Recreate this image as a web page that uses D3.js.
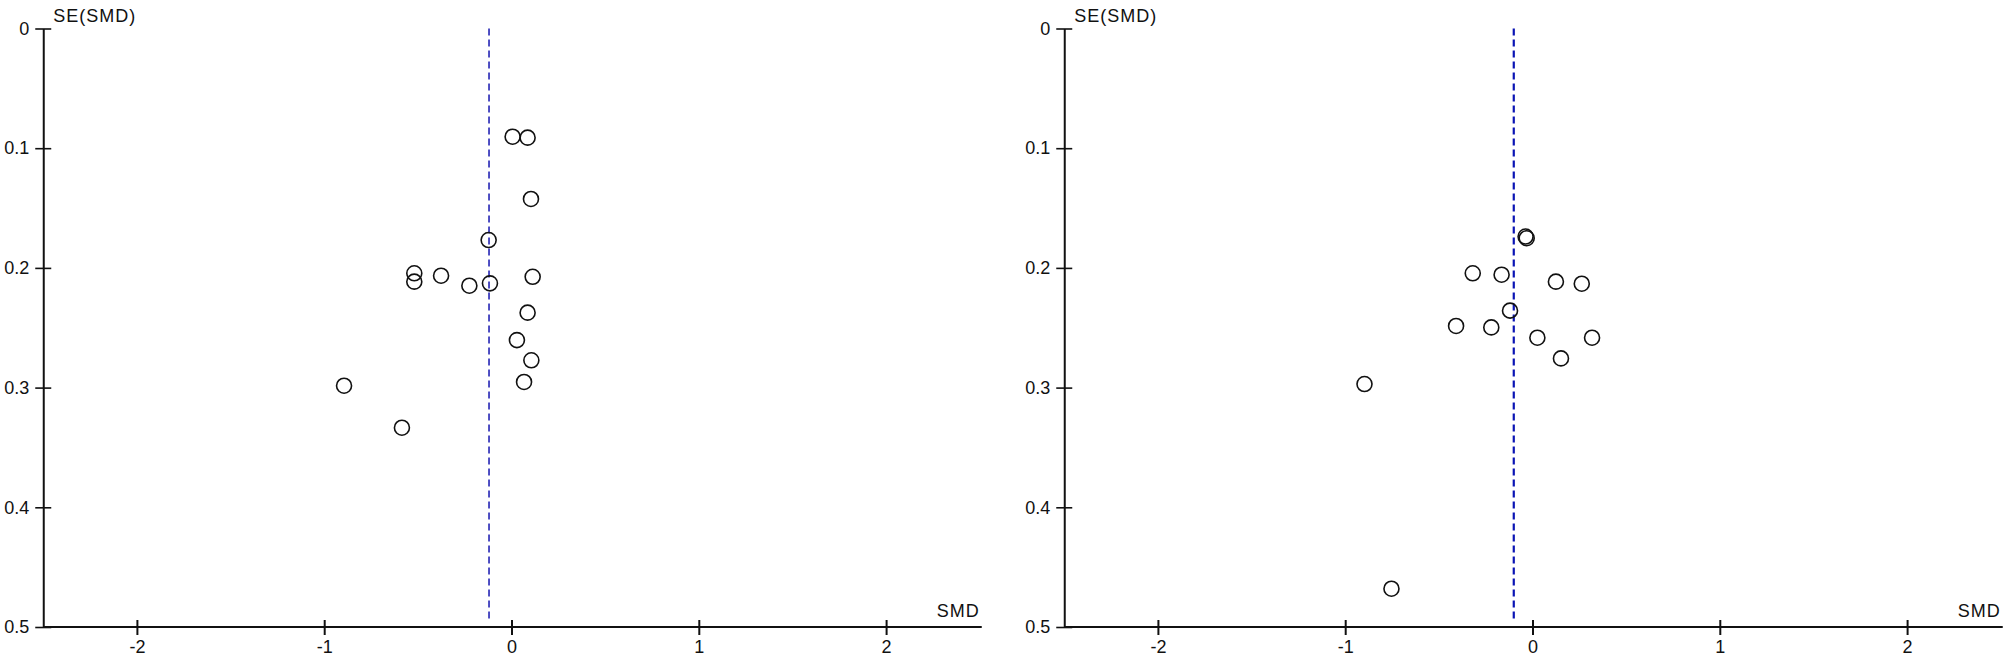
<!DOCTYPE html>
<html>
<head>
<meta charset="utf-8">
<script src="https://cdn.jsdelivr.net/npm/d3@7"></script>
<style>
  html, body { margin: 0; padding: 0; background: #fff; }
  svg { display: block; }
  text { font-family: "Liberation Sans", Arial, sans-serif; fill: #111; }
</style>
</head>
<body>
<div id="chart"></div>
<script>
// Two funnel plots (SMD vs SE(SMD)).

const x_ticks = [-2, -1, 0, 1, 2];
const y_ticks = [0, 0.1, 0.2, 0.3, 0.4, 0.5];

const left_smd = [0.006, 0.086, 0.104, -0.122, -0.519, -0.519, -0.376, -0.225,
  -0.115, 0.113, 0.086, 0.029, 0.106, 0.067, -0.894, -0.585];
const left_se = [0.0904, 0.0912, 0.1424, 0.1767, 0.2045, 0.2115, 0.2065, 0.2149,
  0.2129, 0.2074, 0.2374, 0.2603, 0.2772, 0.2953, 0.2984, 0.3335];
const left_pooled = -0.12;

const right_smd = [-0.037, -0.031, -0.319, -0.165, 0.125, 0.263, -0.120, -0.408,
  -0.220, 0.026, 0.318, 0.152, -0.897, -0.753];
const right_se = [0.1738, 0.1752, 0.2045, 0.2057, 0.2115, 0.2132, 0.2357, 0.2485,
  0.2497, 0.2583, 0.2583, 0.2756, 0.2970, 0.4680];
const right_pooled = -0.10;

const width = 2010;
const height = 659;

const svg = d3.select("#chart").append("svg")
  .attr("width", width)
  .attr("height", height)
  .attr("viewBox", `0 0 ${width} ${height}`);

svg.append("rect").attr("width", width).attr("height", height).attr("fill", "#fff");

function draw_funnel(smd, se, pooled, left, right, dash_color, dash_width) {
  const x = d3.scaleLinear().domain([-2.5, 2.5]).range([left, right]);
  const y = d3.scaleLinear().domain([0, 0.5]).range([28.5, 627]);
  const g = svg.append("g");

  // y axis, ticks crossing the line
  const y_axis = g.append("g")
    .attr("transform", `translate(${x(-2.5)},0)`)
    .call(d3.axisLeft(y)
      .tickValues(y_ticks)
      .tickSizeInner(8)
      .tickSizeOuter(0)
      .tickPadding(6)
      .tickFormat((d) => d === 0 ? "0" : d3.format(".1f")(d)));
  y_axis.select(".domain").attr("stroke", "#111").attr("stroke-width", 2);
  y_axis.selectAll(".tick line").attr("x1", 8).attr("x2", -8)
    .attr("stroke", "#111").attr("stroke-width", 1.6);
  y_axis.selectAll(".tick text")
    .attr("font-size", 18)
    .attr("font-family", "Liberation Sans, Arial, sans-serif")
    .attr("fill", "#111");

  // x axis along SE = 0.5
  const x_axis = g.append("g")
    .attr("transform", `translate(0,${y(0.5)})`)
    .call(d3.axisBottom(x)
      .tickValues(x_ticks)
      .tickSizeInner(8)
      .tickSizeOuter(0)
      .tickPadding(5)
      .tickFormat((d) => String(d)));
  x_axis.select(".domain").attr("stroke", "#111").attr("stroke-width", 2)
    .attr("d", `M${x(-2.5)},0H${x(2.5) + 2}`);
  x_axis.selectAll(".tick line").attr("y1", -7).attr("y2", 8)
    .attr("stroke", "#111").attr("stroke-width", 2);
  x_axis.selectAll(".tick text")
    .attr("font-size", 18)
    .attr("font-family", "Liberation Sans, Arial, sans-serif")
    .attr("fill", "#111");

  g.append("text")
    .attr("x", x(-2.5) + 10)
    .attr("y", 22)
    .attr("font-size", 18)
    .attr("letter-spacing", 1)
    .text("SE(SMD)");
  g.append("text")
    .attr("x", x(2.5))
    .attr("y", y(0.5) - 10)
    .attr("text-anchor", "end")
    .attr("font-size", 18)
    .attr("letter-spacing", 1)
    .text("SMD");

  // pooled estimate
  g.append("line")
    .attr("x1", x(pooled))
    .attr("x2", x(pooled))
    .attr("y1", y(0))
    .attr("y2", y(0.495))
    .attr("stroke", dash_color)
    .attr("stroke-width", dash_width)
    .attr("stroke-dasharray", "7 4");

  g.append("g")
    .selectAll("circle")
    .data(d3.range(smd.length))
    .join("circle")
    .attr("cx", (i) => x(smd[i]))
    .attr("cy", (i) => y(se[i]))
    .attr("r", 7.5)
    .attr("fill", "none")
    .attr("stroke", "#111")
    .attr("stroke-width", 1.6);
}

draw_funnel(left_smd, left_se, left_pooled, 43.25, 979.75, "#2424b4", 1.6);
draw_funnel(right_smd, right_se, right_pooled, 1064.25, 2000.75, "#0a14b4", 2.2);
</script>
</body>
</html>
